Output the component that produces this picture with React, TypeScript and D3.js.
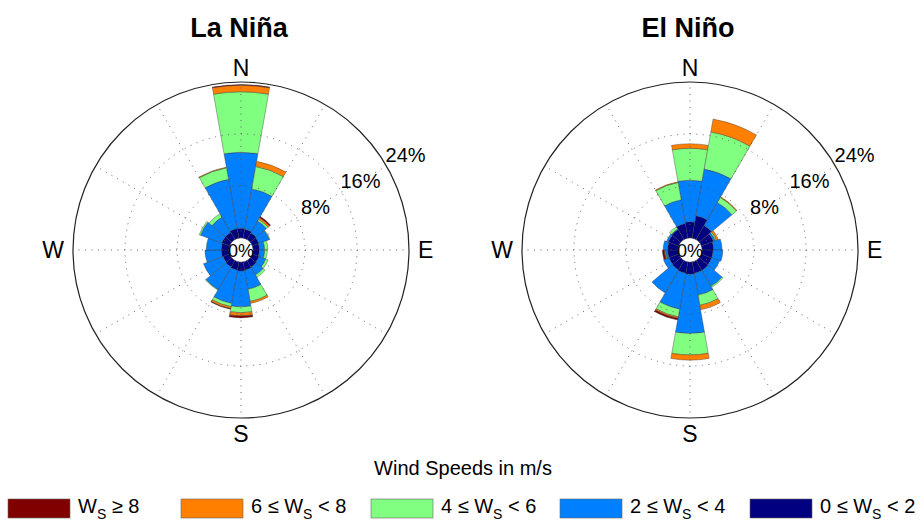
import React, { useEffect, useRef } from "react";
import * as d3 from "d3";

// direction bins (degrees clockwise from north), 20 deg wide
const directions = [0, 20, 40, 60, 80, 100, 120, 140, 160, 180, 200, 220, 240, 260, 280, 300, 320, 340];

// frequency (%) per speed class, La Niña
const laNina0to2 = [1.5, 1.4, 1.2, 1.1, 1.0, 1.0, 1.1, 1.2, 1.3, 1.4, 1.3, 1.2, 1.1, 1.2, 1.2, 1.3, 1.3, 1.5];
const laNina2to4 = [11.7, 6.3, 2.1, 1.7, 0.8, 0.8, 1.1, 1.4, 3.0, 5.5, 5.2, 4.0, 3.2, 2.5, 2.3, 3.5, 2.7, 7.7];
const laNina4to6 = [9.3, 3.5, 0.3, 0.1, 0.5, 0.4, 0.4, 0.4, 1.9, 0.9, 0.5, 0.1, 0, 0, 0, 0.2, 0.6, 1.8];
const laNina6to8 = [1.0, 0.8, 0.3, 0, 0, 0, 0, 0, 0.3, 0.5, 0.3, 0, 0, 0, 0, 0, 0, 0.1];
const laNina8up = [0.1, 0, 0.2, 0, 0, 0, 0, 0, 0, 0.3, 0.1, 0, 0, 0, 0, 0, 0, 0];

// frequency (%) per speed class, El Niño
const elNino0to2 = [2.5, 3.5, 2.5, 2.0, 1.8, 1.7, 1.7, 1.8, 1.8, 1.9, 1.8, 1.7, 1.6, 1.6, 1.6, 1.7, 1.8, 2.3];
const elNino2to4 = [6.4, 7.3, 4.1, 0.3, 1.3, 1.5, 1.3, 2.8, 3.4, 9.1, 5.6, 4.1, 0.9, 0.3, 0.7, 0.3, 0.1, 3.7];
const elNino4to6 = [4.9, 5.8, 0.9, 0.2, 0, 0, 0, 0.2, 1.6, 3.3, 1.2, 0, 0, 0.1, 0, 0, 0.4, 2.7];
const elNino6to8 = [0.7, 2.0, 0.1, 0.3, 0, 0, 0, 0, 0.7, 0.8, 0.2, 0, 0, 0.1, 0, 0, 0, 0.1];
const elNino8up = [0, 0, 0, 0, 0, 0, 0, 0, 0, 0, 0.3, 0, 0, 0.3, 0, 0, 0, 0];

// inner -> outer
const speedColors = ["#000080", "#0080ff", "#80ff80", "#ff8000", "#800000"];

const ringTicks = [8, 16, 24];
const spokeAngles = [0, 30, 60, 90, 120, 150, 180, 210, 240, 270, 300, 330];

// legend, left to right
const legendColors = ["#800000", "#ff8000", "#80ff80", "#0080ff", "#000080"];
const legendPre = ["", "6 ≤ ", "4 ≤ ", "2 ≤ ", "0 ≤ "];
const legendPost = [" ≥ 8", " < 8", " < 6", " < 4", " < 2"];
const legendX = [8, 181, 371, 560, 750];

const FONT = "'Liberation Sans', Arial, Helvetica, sans-serif";

function drawRose(g, title, cx, cy, series) {
    const rMax = 168;
    const r = d3.scaleLinear().domain([0, 24]).range([12, rMax]);
    const rad = (deg) => (deg * Math.PI) / 180;

    const root = g.append("g").attr("transform", `translate(${cx},${cy})`);

    // stacked sectors
    const arc = d3.arc();
    directions.forEach((dir, i) => {
        let cum = 0;
        series.forEach((vals, k) => {
            const v = vals[i];
            if (v <= 0) return;
            root.append("path")
                .attr("d", arc({
                    innerRadius: r(cum),
                    outerRadius: r(cum + v),
                    startAngle: rad(dir - 10),
                    endAngle: rad(dir + 10),
                }))
                .attr("fill", speedColors[k])
                .attr("stroke", "#3a3a3a")
                .attr("stroke-width", 0.4);
            cum += v;
        });
    });

    // dotted grid on top
    root.append("g")
        .selectAll("circle")
        .data(ringTicks.slice(0, 2))
        .join("circle")
        .attr("r", (d) => r(d))
        .attr("fill", "none")
        .attr("stroke", "#555")
        .attr("stroke-width", 0.9)
        .attr("stroke-dasharray", "1 5.5");

    root.append("g")
        .selectAll("line")
        .data(spokeAngles)
        .join("line")
        .attr("x1", (a) => r(0) * Math.sin(rad(a)))
        .attr("y1", (a) => -r(0) * Math.cos(rad(a)))
        .attr("x2", (a) => rMax * Math.sin(rad(a)))
        .attr("y2", (a) => -rMax * Math.cos(rad(a)))
        .attr("stroke", "#555")
        .attr("stroke-width", 0.9)
        .attr("stroke-dasharray", "1 5.5");

    root.append("circle")
        .attr("r", rMax)
        .attr("fill", "none")
        .attr("stroke", "#222")
        .attr("stroke-width", 1.2);

    // ring labels
    root.append("g")
        .selectAll("text")
        .data(ringTicks)
        .join("text")
        .attr("x", (d) => (r(d) + 22) * Math.sin(rad(60)))
        .attr("y", (d) => -(r(d) + 22) * Math.cos(rad(60)))
        .attr("text-anchor", "middle")
        .attr("dominant-baseline", "central")
        .attr("font-family", FONT)
        .attr("font-size", 20)
        .text((d) => `${d}%`);

    root.append("text")
        .attr("y", 1)
        .attr("text-anchor", "middle")
        .attr("dominant-baseline", "central")
        .attr("font-family", FONT)
        .attr("font-size", 18)
        .text("0%");

    // compass labels
    const compass = root.append("g")
        .attr("font-family", FONT)
        .attr("font-size", 23);
    compass.append("text").attr("y", -rMax - 6).attr("text-anchor", "middle").text("N");
    compass.append("text").attr("y", rMax + 24).attr("text-anchor", "middle").text("S");
    compass.append("text").attr("x", rMax + 9).attr("y", 8).attr("text-anchor", "start").text("E");
    compass.append("text").attr("x", -rMax - 9).attr("y", 8).attr("text-anchor", "end").text("W");

    g.append("text")
        .attr("x", cx - 2)
        .attr("y", 37)
        .attr("text-anchor", "middle")
        .attr("font-family", FONT)
        .attr("font-weight", "bold")
        .attr("font-size", 27)
        .text(title);
}

export default function App() {
    const svgRef = useRef(null);

    useEffect(() => {
        const svg = d3.select(svgRef.current);
        svg.selectAll("*").remove();

        drawRose(svg, "La Niña", 241, 250, [laNina0to2, laNina2to4, laNina4to6, laNina6to8, laNina8up]);
        drawRose(svg, "El Niño", 690, 250, [elNino0to2, elNino2to4, elNino4to6, elNino6to8, elNino8up]);

        svg.append("text")
            .attr("x", 463)
            .attr("y", 475)
            .attr("text-anchor", "middle")
            .attr("font-family", FONT)
            .attr("font-size", 20)
            .text("Wind Speeds in m/s");

        // legend
        const items = svg.append("g")
            .selectAll("g")
            .data(legendColors)
            .join("g")
            .attr("transform", (d, i) => `translate(${legendX[i]},0)`);

        items.append("rect")
            .attr("y", 499)
            .attr("width", 62)
            .attr("height", 19)
            .attr("fill", (d) => d)
            .attr("stroke", "#666")
            .attr("stroke-width", 0.6);

        const label = items.append("text")
            .attr("x", 70)
            .attr("y", 513)
            .attr("font-family", FONT)
            .attr("font-size", 20)
            .style("white-space", "pre");
        label.append("tspan").text((d, i) => `${legendPre[i]}W`);
        label.append("tspan").attr("dy", 6).attr("font-size", 14).text("S");
        label.append("tspan").attr("dy", -6).text((d, i) => legendPost[i]);
    }, []);

    return (
        <svg
            ref={svgRef}
            width={921}
            height={521}
            style={{ position: "fixed", left: 0, top: 0, background: "#fff" }}
        />
    );
}
